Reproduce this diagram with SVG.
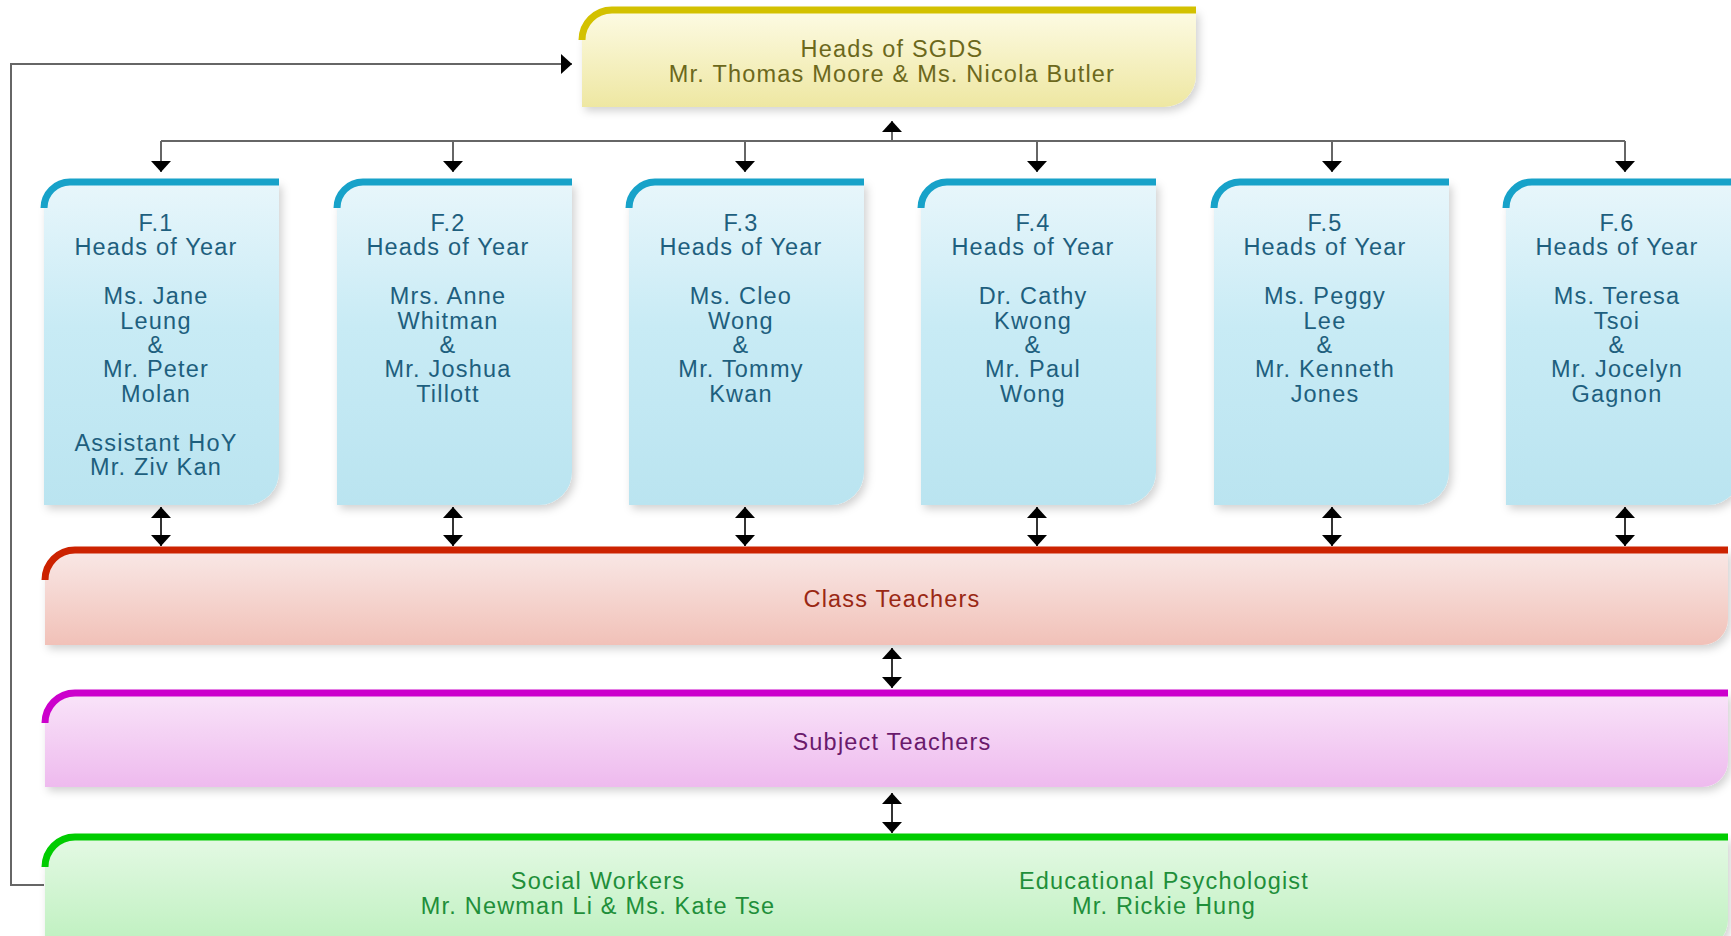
<svg xmlns="http://www.w3.org/2000/svg" width="1731" height="936" viewBox="0 0 1731 936">
<defs>
<linearGradient id="gY" x1="0" y1="0" x2="0" y2="1"><stop offset="0" stop-color="#fdfbe4"/><stop offset="1" stop-color="#eee7a2"/></linearGradient>
<linearGradient id="gB" x1="0" y1="0" x2="0" y2="1"><stop offset="0" stop-color="#e8f6fb"/><stop offset="0.45" stop-color="#c8ebf5"/><stop offset="1" stop-color="#bae4f0"/></linearGradient>
<linearGradient id="gR" x1="0" y1="0" x2="0" y2="1"><stop offset="0" stop-color="#f9e8e6"/><stop offset="1" stop-color="#f1c1b8"/></linearGradient>
<linearGradient id="gP" x1="0" y1="0" x2="0" y2="1"><stop offset="0" stop-color="#f9e4f9"/><stop offset="1" stop-color="#eebaee"/></linearGradient>
<linearGradient id="gG" x1="0" y1="0" x2="0" y2="1"><stop offset="0" stop-color="#e4f9e4"/><stop offset="1" stop-color="#bdf0be"/></linearGradient>
<filter id="sh" x="-5%" y="-5%" width="115%" height="125%"><feDropShadow dx="3" dy="4" stdDeviation="4" flood-color="#000" flood-opacity="0.18"/></filter>
<marker id="ah" viewBox="0 -11 11 22" refX="11" refY="0" markerWidth="11" markerHeight="22" markerUnits="userSpaceOnUse" orient="auto-start-reverse"><path d="M0,-10 L11,0 L0,10 Z" fill="#000"/></marker>
</defs>
<style>
text{font-family:"Liberation Sans",Arial,sans-serif;font-size:23.5px;letter-spacing:1.2px;text-anchor:middle}
.band{fill:none;stroke-width:7}
.ln{fill:none;stroke:#666;stroke-width:2}
.dl{fill:none;stroke:#333;stroke-width:2}
.ty{fill:#6c681c}
.tb{fill:#1e5f7e}
.tr{fill:#9a2814}
.tp{fill:#6a1a6c}
.tg{fill:#1f8f3a}
</style>

<g id="connectors">
<path class="ln" d="M44,885 L11,885 L11,64 L572,64" marker-end="url(#ah)"/>
<line class="ln" x1="161" y1="141" x2="1625" y2="141"/>
<line class="ln" x1="892" y1="141" x2="892" y2="121" marker-end="url(#ah)"/>
<line class="ln" x1="161" y1="141" x2="161" y2="172" marker-end="url(#ah)"/>
<line class="ln" x1="453" y1="141" x2="453" y2="172" marker-end="url(#ah)"/>
<line class="ln" x1="745" y1="141" x2="745" y2="172" marker-end="url(#ah)"/>
<line class="ln" x1="1037" y1="141" x2="1037" y2="172" marker-end="url(#ah)"/>
<line class="ln" x1="1332" y1="141" x2="1332" y2="172" marker-end="url(#ah)"/>
<line class="ln" x1="1625" y1="141" x2="1625" y2="172" marker-end="url(#ah)"/>
<line class="dl" x1="161" y1="507" x2="161" y2="546" marker-start="url(#ah)" marker-end="url(#ah)"/>
<line class="dl" x1="453" y1="507" x2="453" y2="546" marker-start="url(#ah)" marker-end="url(#ah)"/>
<line class="dl" x1="745" y1="507" x2="745" y2="546" marker-start="url(#ah)" marker-end="url(#ah)"/>
<line class="dl" x1="1037" y1="507" x2="1037" y2="546" marker-start="url(#ah)" marker-end="url(#ah)"/>
<line class="dl" x1="1332" y1="507" x2="1332" y2="546" marker-start="url(#ah)" marker-end="url(#ah)"/>
<line class="dl" x1="1625" y1="507" x2="1625" y2="546" marker-start="url(#ah)" marker-end="url(#ah)"/>
<line class="dl" x1="892" y1="648" x2="892" y2="688" marker-start="url(#ah)" marker-end="url(#ah)"/>
<line class="dl" x1="892" y1="793" x2="892" y2="833" marker-start="url(#ah)" marker-end="url(#ah)"/>
</g>

<g id="heads-sgds">
<path d="M582,107 L582,40 A30,30 0 0 1 612,10 L1196,10 L1196,75 A32,32 0 0 1 1164,107 Z" fill="url(#gY)" filter="url(#sh)"/>
<path class="band" stroke="#d3c100" d="M582,40 A30,30 0 0 1 612,10 L1196,10"/>
<text class="ty" x="892" y="57">Heads of SGDS</text>
<text class="ty" x="892" y="82">Mr. Thomas Moore &amp; Ms. Nicola Butler</text>
</g>

<g id="f1">
<path d="M44,505 L44,208 A26,26 0 0 1 70,182 L279,182 L279,472 A33,33 0 0 1 246,505 Z" fill="url(#gB)" filter="url(#sh)"/>
<path class="band" stroke="#17a2c9" d="M44,208 A26,26 0 0 1 70,182 L279,182"/>
<text class="tb" x="156" y="231">F.1</text>
<text class="tb" x="156" y="255">Heads of Year</text>
<text class="tb" x="156" y="304">Ms. Jane</text>
<text class="tb" x="156" y="329">Leung</text>
<text class="tb" x="156" y="353">&amp;</text>
<text class="tb" x="156" y="377">Mr. Peter</text>
<text class="tb" x="156" y="402">Molan</text>
<text class="tb" x="156" y="451">Assistant HoY</text>
<text class="tb" x="156" y="475">Mr. Ziv Kan</text>
</g>

<g id="f2">
<path d="M337,505 L337,208 A26,26 0 0 1 363,182 L572,182 L572,472 A33,33 0 0 1 539,505 Z" fill="url(#gB)" filter="url(#sh)"/>
<path class="band" stroke="#17a2c9" d="M337,208 A26,26 0 0 1 363,182 L572,182"/>
<text class="tb" x="448" y="231">F.2</text>
<text class="tb" x="448" y="255">Heads of Year</text>
<text class="tb" x="448" y="304">Mrs. Anne</text>
<text class="tb" x="448" y="329">Whitman</text>
<text class="tb" x="448" y="353">&amp;</text>
<text class="tb" x="448" y="377">Mr. Joshua</text>
<text class="tb" x="448" y="402">Tillott</text>
</g>

<g id="f3">
<path d="M629,505 L629,208 A26,26 0 0 1 655,182 L864,182 L864,472 A33,33 0 0 1 831,505 Z" fill="url(#gB)" filter="url(#sh)"/>
<path class="band" stroke="#17a2c9" d="M629,208 A26,26 0 0 1 655,182 L864,182"/>
<text class="tb" x="741" y="231">F.3</text>
<text class="tb" x="741" y="255">Heads of Year</text>
<text class="tb" x="741" y="304">Ms. Cleo</text>
<text class="tb" x="741" y="329">Wong</text>
<text class="tb" x="741" y="353">&amp;</text>
<text class="tb" x="741" y="377">Mr. Tommy</text>
<text class="tb" x="741" y="402">Kwan</text>
</g>

<g id="f4">
<path d="M921,505 L921,208 A26,26 0 0 1 947,182 L1156,182 L1156,472 A33,33 0 0 1 1123,505 Z" fill="url(#gB)" filter="url(#sh)"/>
<path class="band" stroke="#17a2c9" d="M921,208 A26,26 0 0 1 947,182 L1156,182"/>
<text class="tb" x="1033" y="231">F.4</text>
<text class="tb" x="1033" y="255">Heads of Year</text>
<text class="tb" x="1033" y="304">Dr. Cathy</text>
<text class="tb" x="1033" y="329">Kwong</text>
<text class="tb" x="1033" y="353">&amp;</text>
<text class="tb" x="1033" y="377">Mr. Paul</text>
<text class="tb" x="1033" y="402">Wong</text>
</g>

<g id="f5">
<path d="M1214,505 L1214,208 A26,26 0 0 1 1240,182 L1449,182 L1449,472 A33,33 0 0 1 1416,505 Z" fill="url(#gB)" filter="url(#sh)"/>
<path class="band" stroke="#17a2c9" d="M1214,208 A26,26 0 0 1 1240,182 L1449,182"/>
<text class="tb" x="1325" y="231">F.5</text>
<text class="tb" x="1325" y="255">Heads of Year</text>
<text class="tb" x="1325" y="304">Ms. Peggy</text>
<text class="tb" x="1325" y="329">Lee</text>
<text class="tb" x="1325" y="353">&amp;</text>
<text class="tb" x="1325" y="377">Mr. Kenneth</text>
<text class="tb" x="1325" y="402">Jones</text>
</g>

<g id="f6">
<path d="M1506,505 L1506,208 A26,26 0 0 1 1532,182 L1741,182 L1741,472 A33,33 0 0 1 1708,505 Z" fill="url(#gB)" filter="url(#sh)"/>
<path class="band" stroke="#17a2c9" d="M1506,208 A26,26 0 0 1 1532,182 L1741,182"/>
<text class="tb" x="1617" y="231">F.6</text>
<text class="tb" x="1617" y="255">Heads of Year</text>
<text class="tb" x="1617" y="304">Ms. Teresa</text>
<text class="tb" x="1617" y="329">Tsoi</text>
<text class="tb" x="1617" y="353">&amp;</text>
<text class="tb" x="1617" y="377">Mr. Jocelyn</text>
<text class="tb" x="1617" y="402">Gagnon</text>
</g>

<g id="class-teachers">
<path d="M45,645 L45,580 A30,30 0 0 1 75,550 L1728,550 L1728,619 A26,26 0 0 1 1702,645 Z" fill="url(#gR)" filter="url(#sh)"/>
<path class="band" stroke="#cc2200" d="M45,580 A30,30 0 0 1 75,550 L1728,550"/>
<text class="tr" x="892" y="607">Class Teachers</text>
</g>

<g id="subject-teachers">
<path d="M45,787 L45,723 A30,30 0 0 1 75,693 L1728,693 L1728,761 A26,26 0 0 1 1702,787 Z" fill="url(#gP)" filter="url(#sh)"/>
<path class="band" stroke="#cc00cc" d="M45,723 A30,30 0 0 1 75,693 L1728,693"/>
<text class="tp" x="892" y="750">Subject Teachers</text>
</g>

<g id="support">
<path d="M45,950 L45,867 A30,30 0 0 1 75,837 L1728,837 L1728,920 A28,28 0 0 1 1700,948 Z" fill="url(#gG)" filter="url(#sh)"/>
<path class="band" stroke="#00cc00" d="M45,867 A30,30 0 0 1 75,837 L1728,837"/>
<text class="tg" x="598" y="889">Social Workers</text>
<text class="tg" x="598" y="914">Mr. Newman Li &amp; Ms. Kate Tse</text>
<text class="tg" x="1164" y="889">Educational Psychologist</text>
<text class="tg" x="1164" y="914">Mr. Rickie Hung</text>
</g>
</svg>
